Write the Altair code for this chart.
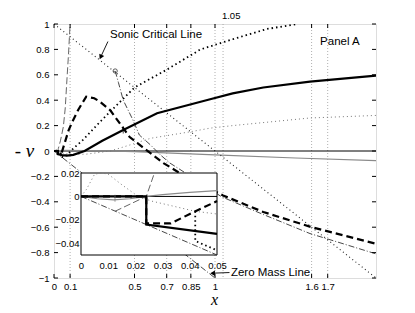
import altair as alt
import pandas as pd

# ---------------- data ----------------
x_ticks = [0, 0.1, 0.5, 0.7, 0.85, 1, 1.6, 1.7]
y_ticks = [-1, -0.8, -0.6, -0.4, -0.2, 0, 0.2, 0.4, 0.6, 0.8, 1]
grid_x = [0.1, 0.5, 0.7, 0.85, 1, 1.05, 1.6, 1.7]
inset_x_ticks = [0, 0.01, 0.02, 0.03, 0.04, 0.05]
inset_y_ticks = [-0.04, -0.02, 0, 0.02]

zero_x = [0, 0.05, 2]
zero_y = [0, 0, 0]

grey_x = [0, 0.006, 0.012, 0.018, 0.024, 0.03, 0.04, 0.05, 0.2, 0.5, 1.0, 1.5, 2.0]
grey_y = [0, -0.002, -0.003, -0.002, 0, 0.0015, 0.0035, 0.005, 0.004, -0.005, -0.03, -0.055, -0.076]

sonic_x = [0, 2]
sonic_y = [1, -1]

zmass_x = [0, 0.05, 1]
zmass_y = [0, -0.05, -1]

solid_x = [0, 0.024, 0.024, 0.05, 0.08, 0.12, 0.19, 0.3, 0.43, 0.64, 0.97, 1.11, 1.3, 1.59, 2.0]
solid_y = [0, 0, -0.024, -0.032, -0.036, -0.03, 0, 0.08, 0.166, 0.297, 0.407, 0.454, 0.5, 0.546, 0.593]

dashed_x = [0, 0.024, 0.024, 0.033, 0.04, 0.05, 0.068, 0.09, 0.11, 0.15, 0.2, 0.25, 0.286, 0.35,
            0.47, 0.55, 0.68, 0.77, 1.05, 1.3, 1.6, 2.0]
dashed_y = [0, 0, -0.023, -0.023, -0.015, -0.004, 0.07, 0.16, 0.22, 0.323, 0.428, 0.415, 0.388, 0.32,
            0.11, 0.03, -0.095, -0.165, -0.35, -0.48, -0.60, -0.73]

tdot_x = [0.042, 0.042, 0.05, 0.06, 0.09, 0.12, 0.18, 0.286, 0.5, 0.7, 0.91, 1.11, 1.32, 1.51]
tdot_y = [-0.0127, -0.038, -0.046, -0.05, -0.02, 0.02, 0.087, 0.23, 0.5, 0.64, 0.80, 0.88, 0.96, 1.0]

ndot_x = [0, 0.002, 0.005, 0.0075, 0.01, 0.015, 0.021, 0.026, 0.042, 0.05, 0.06, 0.1, 0.2, 0.35,
          0.47, 0.6, 0.84, 0.97, 1.11, 1.59, 2.0]
ndot_y = [0, 0.006, 0.019, 0.02, 0.019, 0.01, 0, -0.004, -0.0127, -0.015, -0.018, -0.027, -0.025, 0,
          0.047, 0.1, 0.15, 0.18, 0.2, 0.26, 0.28]

tdash_x = [0.0125, 0.024, 0.027, 0.04, 0.058, 0.07, 0.079, 0.09, 0.1]
tdash_y = [-0.0127, 0, 0.02, 0.08, 0.19, 0.34, 0.535, 0.76, 1.0]

circ_x = [0.38, 0.40, 0.43, 0.49, 0.53, 0.6, 0.66, 0.72, 0.85, 1.04, 1.3, 1.59, 2.0]
circ_y = [0.63, 0.54, 0.40, 0.245, 0.126, 0.047, -0.03, -0.095, -0.2, -0.36, -0.5, -0.65, -0.81]

marker_x = [0.38]
marker_y = [0.63]

texts = ["Sonic Critical Line", "Panel A", "Zero Mass Line", "1.05"]
text_x = [0.348, 1.776, 1.099, 1.043]
text_y = [0.913, 0.858, -0.957, 1.063]

sonic_arrow_x = [0.335, 0.29]
sonic_arrow_y = [0.862, 0.74]
zm_arrow_x = [1.09, 0.985]
zm_arrow_y = [-0.957, -0.962]

# ---------------- layout ----------------
W, H = 322, 254
FONT = "Liberation Sans"
SERIF = "Liberation Serif"


def frame(xs, ys):
    return pd.DataFrame({"x": xs, "y": ys, "i": list(range(len(xs)))})


XS = alt.Scale(domain=[0, 2], nice=False, zero=False)
YS = alt.Scale(domain=[-1, 1], nice=False, zero=False)
XA = alt.Axis(values=x_ticks, format="~g", grid=False, ticks=False, domain=False,
              labelFont=FONT, labelFontSize=9.5, labelColor="black", labelPadding=3,
              labelFlush=False, labelOverlap=False,
              title="x", titleFont=SERIF, titleFontStyle="italic", titleFontWeight="normal",
              titleFontSize=16, titleColor="black", titleX=160, titleY=26,
              titleAlign="center", titleBaseline="alphabetic")
YA = alt.Axis(values=y_ticks, format="~g", grid=False, ticks=False, domain=False,
              labelFont=FONT, labelFontSize=9.5, labelColor="black", labelPadding=5,
              labelOverlap=False,
              title="- v", titleFont=SERIF, titleFontStyle="italic", titleFontWeight="normal",
              titleFontSize=19, titleColor="black", titleAngle=0, titleX=-30, titleY=126,
              titleAlign="center", titleBaseline="middle")

XI = alt.Scale(domain=[0, 0.05], range=[27, 163], nice=False, zero=False)
YI = alt.Scale(domain=[-0.05, 0.02], range=[231, 149], nice=False, zero=False)
XIA = alt.Axis(values=inset_x_ticks, format="~g", orient="bottom", offset=-23, zindex=1,
               grid=False, ticks=False, domain=False, labelFont=FONT, labelFontSize=9.5,
               labelColor="black", labelPadding=5, labelFlush=False, labelOverlap=False, title=None)
YIA = alt.Axis(values=inset_y_ticks, format="~g", orient="left", offset=-27, zindex=1,
               grid=False, ticks=False, domain=False, labelFont=FONT, labelFontSize=9.5,
               labelColor="black", labelPadding=2, labelOverlap=False, title=None)


def X(f, inset=False):
    return alt.X(f, type="quantitative", scale=XI if inset else XS, axis=XIA if inset else XA)


def Y(f, inset=False):
    return alt.Y(f, type="quantitative", scale=YI if inset else YS, axis=YIA if inset else YA)


def line(xs, ys, color, width, dash=None, inset=False):
    kw = dict(color=color, strokeWidth=width, clip=not inset)
    if dash:
        kw["strokeDash"] = dash
    c = alt.Chart(frame(xs, ys)).mark_line(**kw)
    if inset:
        c = c.transform_filter("datum.x <= 0.0501 && datum.y <= 0.0201 && datum.y >= -0.0501")
    return c.encode(x=X("x", inset), y=Y("y", inset), order=alt.Order("i:Q"))


series = [
    (zero_x, zero_y, "black", 1.0, None),
    (grey_x, grey_y, "#8a8a8a", 1.2, None),
    (sonic_x, sonic_y, "#222", 1.1, [1, 3]),
    (zmass_x, zmass_y, "#333", 0.9, [6, 2, 1, 2]),
    (ndot_x, ndot_y, "#777", 1.0, [1, 3]),
    (tdot_x, tdot_y, "black", 1.8, [1.5, 3]),
    (tdash_x, tdash_y, "#555", 0.9, [7, 3]),
    (circ_x, circ_y, "#333", 0.9, [6, 2, 1, 2]),
    (solid_x, solid_y, "black", 2.2, None),
    (dashed_x, dashed_y, "black", 2.2, [7, 4]),
]

# ---------------- main panel ----------------
gridl = alt.Chart(pd.DataFrame({"v": grid_x})).mark_rule(
    color="#9a9a9a", strokeWidth=0.8, strokeDash=[1, 2]).encode(x=X("v"))

tk_y = pd.DataFrame({"v": y_ticks})
tk_x = pd.DataFrame({"v": x_ticks})
tick_l = alt.Chart(tk_y).mark_rule(color="black", strokeWidth=1).encode(
    y=Y("v"), x=alt.value(0), x2=alt.value(4))
tick_r = alt.Chart(tk_y).mark_rule(color="black", strokeWidth=1).encode(
    y=Y("v"), x=alt.value(W - 4), x2=alt.value(W))
tick_b = alt.Chart(tk_x).mark_rule(color="black", strokeWidth=1).encode(
    x=X("v"), y=alt.value(H - 4), y2=alt.value(H))
tick_t = alt.Chart(tk_x).mark_rule(color="black", strokeWidth=1).encode(
    x=X("v"), y=alt.value(0), y2=alt.value(4))

main_lines = [line(xs, ys, c, w, d) for xs, ys, c, w, d in series]

marker = alt.Chart(frame(marker_x, marker_y)).mark_point(
    shape="circle", size=18, filled=False, color="black", strokeWidth=0.9).encode(x=X("x"), y=Y("y"))
cross = alt.Chart(frame([0.43], [0.166])).mark_tick(
    orient="vertical", size=7, thickness=1, color="black").encode(x=X("x"), y=Y("y"))

tdf = pd.DataFrame({"x": text_x, "y": text_y, "t": texts})
txt_main = alt.Chart(tdf.iloc[[0, 2]]).mark_text(
    align="left", baseline="middle", font=FONT, fontSize=11.5, color="black").encode(
    x=X("x"), y=Y("y"), text="t:N")
txt_panel = alt.Chart(tdf.iloc[[1]]).mark_text(
    align="center", baseline="middle", font=FONT, fontSize=11.5, color="black").encode(
    x=X("x"), y=Y("y"), text="t:N")
txt_top = alt.Chart(tdf.iloc[[3]]).mark_text(
    align="left", baseline="middle", font=FONT, fontSize=9.5, color="black").encode(
    x=X("x"), y=Y("y"), text="t:N")

arr1 = alt.Chart(frame(sonic_arrow_x, sonic_arrow_y)).mark_line(
    color="black", strokeWidth=0.9).encode(x=X("x"), y=Y("y"), order=alt.Order("i:Q"))
head1 = alt.Chart(frame(sonic_arrow_x[1:], sonic_arrow_y[1:])).mark_point(
    shape="triangle-up", angle=206, size=30, filled=True, color="black", opacity=1).encode(
    x=X("x"), y=Y("y"))
arr2 = alt.Chart(frame(zm_arrow_x, zm_arrow_y)).mark_line(
    color="black", strokeWidth=0.9).encode(x=X("x"), y=Y("y"), order=alt.Order("i:Q"))
head2 = alt.Chart(frame(zm_arrow_x[1:], zm_arrow_y[1:])).mark_point(
    shape="triangle-up", angle=270, size=30, filled=True, color="black", opacity=1).encode(
    x=X("x"), y=Y("y"))

main = alt.layer(gridl, *main_lines, marker, cross, txt_main, txt_panel, txt_top,
                 arr1, head1, arr2, head2, tick_l, tick_r, tick_b, tick_t)

# ---------------- inset ----------------
box = alt.Chart(pd.DataFrame({"x0": [0], "x1": [0.05], "y0": [-0.05], "y1": [0.02]})).mark_rect(
    fill="white", stroke="black", strokeWidth=1).encode(
    x=X("x0", True), x2="x1", y=Y("y0", True), y2="y1")

inset_lines = [line(xs, ys, c, w, d, inset=True) for xs, ys, c, w, d in series]
icross = alt.Chart(frame([0.0125], [-0.0015])).mark_tick(
    orient="vertical", size=7, thickness=1, color="#777").encode(x=X("x", True), y=Y("y", True))

inset = alt.layer(box, *inset_lines, icross)

chart = alt.layer(main, inset).resolve_scale(x="independent", y="independent").properties(
    width=W, height=H,
    padding={"left": 46, "top": 16, "right": 20, "bottom": 36},
    autosize=alt.AutoSizeParams(type="none"),
).configure_view(stroke="black", strokeWidth=1).configure(background="white")

chart.save("out.html", embed_options={"renderer": "svg", "actions": False})
